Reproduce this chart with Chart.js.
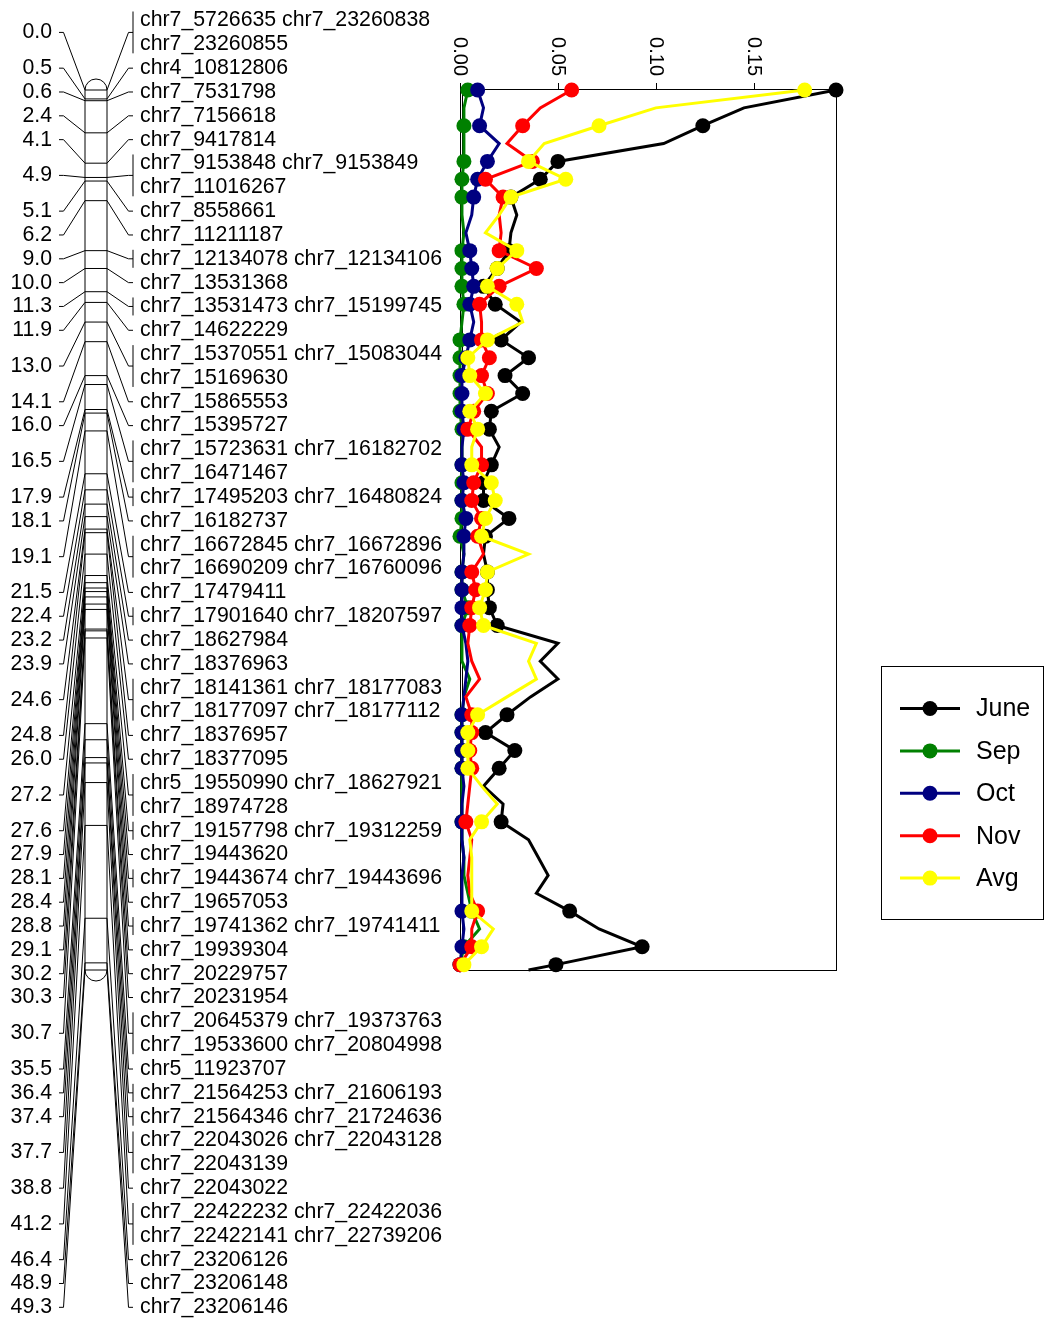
<!DOCTYPE html>
<html>
<head>
<meta charset="utf-8">
<script src="https://cdn.jsdelivr.net/npm/chart.js@4.4.0/dist/chart.umd.min.js"></script>
<style>
html,body{margin:0;padding:0;background:#fff}
canvas{display:block}
</style>
</head>
<body>
<canvas id="map" width="1044" height="1319"></canvas>
<script>
// profile scan positions (cM) and values per month
var profilePos = [0,1,2,3,4,5,6,7,8,9,10,11,12,13,14,15,16,17,18,19,20,21,22,23,24,25,26,27,28,29,30,31,32,33,34,35,36,37,38,39,40,41,42,43,44,45,46,47,48,49,49.3];
var june = [0.192,0.145,0.124,0.104,0.050,0.041,0.026,0.029,0.026,0.025,
  0.019,0.012,0.018,0.031,0.021,0.035,0.023,0.032,0.016,0.015,
  0.020,0.016,0.012,0.012,0.025,0.013,0.012,0.014,0.014,0.015,
  0.019,0.050,0.041,0.050,0.036,0.024,0.013,0.028,0.020,0.012,
  0.022,0.021,0.035,0.040,0.045,0.039,0.056,0.071,0.093,0.049,0.035];
var sep = [0.004,0.002,0.002,0.002,0.002,0.001,0.001,0.001,0.002,0.001,
  0.001,0.001,0.002,0.001,0.000,0.000,0.000,0.000,0.000,0.001,
  0.001,0.001,0.001,0.001,0.001,0.000,0.002,0.001,0.001,0.004,
  0.001,0.001,0.001,0.005,0.002,0.001,0.001,0.001,0.001,0.001,
  0.001,0.001,0.001,0.002,0.002,0.004,0.006,0.010,0.002,0.000,0.000];
var oct = [0.009,0.012,0.010,0.020,0.014,0.009,0.007,0.006,0.003,0.005,
  0.006,0.007,0.005,0.007,0.005,0.003,0.001,0.001,0.001,0.002,
  0.001,0.001,0.002,0.001,0.003,0.002,0.002,0.001,0.001,0.001,
  0.001,0.003,0.004,0.003,0.002,0.001,0.001,0.001,0.001,0.002,
  0.001,0.001,0.001,0.002,0.001,0.001,0.001,0.002,0.001,0.000,0.000];
var nov = [0.057,0.041,0.032,0.024,0.037,0.013,0.022,0.020,0.021,0.020,
  0.039,0.020,0.010,0.011,0.011,0.015,0.011,0.014,0.007,0.004,
  0.011,0.011,0.007,0.006,0.011,0.009,0.012,0.006,0.008,0.006,
  0.005,0.004,0.006,0.010,0.003,0.006,0.006,0.005,0.006,0.005,
  0.004,0.003,0.006,0.005,0.004,0.005,0.009,0.006,0.006,0.000,0.000];
var avg = [0.176,0.100,0.071,0.043,0.035,0.054,0.026,0.020,0.013,0.029,
  0.019,0.014,0.029,0.032,0.014,0.004,0.005,0.013,0.005,0.009,
  0.006,0.006,0.016,0.018,0.013,0.011,0.035,0.014,0.013,0.010,
  0.012,0.039,0.035,0.039,0.024,0.009,0.004,0.004,0.004,0.011,
  0.019,0.011,0.005,0.006,0.006,0.006,0.006,0.017,0.011,0.002,0.001];
// scan points that get a dot
var dotIdx = [0,2,4,5,6,9,10,11,12,14,15,16,17,18,19,21,22,23,24,25,27,28,29,30,35,36,37,38,41,46,48,49];
var xTicks = [0, 0.05, 0.10, 0.15];
var xMax = 0.192;

// linkage map: marker positions and names (one entry per text row)
var mapPos = [0.0,0.5,0.6,2.4,4.1,4.9,5.1,6.2,9.0,10.0,11.3,11.9,13.0,14.1,16.0,16.5,17.9,18.1,19.1,21.5,
  22.4,23.2,23.9,24.6,24.8,26.0,27.2,27.6,27.9,28.1,28.4,28.8,29.1,30.2,30.3,30.7,35.5,36.4,37.4,37.7,
  38.8,41.2,46.4,48.9,49.3];
var mapNames = [
  ["chr7_5726635 chr7_23260838","chr7_23260855"],
  ["chr4_10812806"],
  ["chr7_7531798"],
  ["chr7_7156618"],
  ["chr7_9417814"],
  ["chr7_9153848 chr7_9153849","chr7_11016267"],
  ["chr7_8558661"],
  ["chr7_11211187"],
  ["chr7_12134078 chr7_12134106"],
  ["chr7_13531368"],
  ["chr7_13531473 chr7_15199745"],
  ["chr7_14622229"],
  ["chr7_15370551 chr7_15083044","chr7_15169630"],
  ["chr7_15865553"],
  ["chr7_15395727"],
  ["chr7_15723631 chr7_16182702","chr7_16471467"],
  ["chr7_17495203 chr7_16480824"],
  ["chr7_16182737"],
  ["chr7_16672845 chr7_16672896","chr7_16690209 chr7_16760096"],
  ["chr7_17479411"],
  ["chr7_17901640 chr7_18207597"],
  ["chr7_18627984"],
  ["chr7_18376963"],
  ["chr7_18141361 chr7_18177083","chr7_18177097 chr7_18177112"],
  ["chr7_18376957"],
  ["chr7_18377095"],
  ["chr5_19550990 chr7_18627921","chr7_18974728"],
  ["chr7_19157798 chr7_19312259"],
  ["chr7_19443620"],
  ["chr7_19443674 chr7_19443696"],
  ["chr7_19657053"],
  ["chr7_19741362 chr7_19741411"],
  ["chr7_19939304"],
  ["chr7_20229757"],
  ["chr7_20231954"],
  ["chr7_20645379 chr7_19373763","chr7_19533600 chr7_20804998"],
  ["chr5_11923707"],
  ["chr7_21564253 chr7_21606193"],
  ["chr7_21564346 chr7_21724636"],
  ["chr7_22043026 chr7_22043128","chr7_22043139"],
  ["chr7_22043022"],
  ["chr7_22422232 chr7_22422036","chr7_22422141 chr7_22739206"],
  ["chr7_23206126"],
  ["chr7_23206148"],
  ["chr7_23206146"]
];

var FONT = '"Liberation Sans", Arial, sans-serif';

var series = [
  {label:"June", vals:june, color:"#000000"},
  {label:"Sep",  vals:sep,  color:"#008000"},
  {label:"Oct",  vals:oct,  color:"#000080"},
  {label:"Nov",  vals:nov,  color:"#ff0000"},
  {label:"Avg",  vals:avg,  color:"#ffff00"}
];

var radius = profilePos.map(function(p, i){ return dotIdx.indexOf(i) >= 0 ? 7.5 : 0; });

var datasets = series.map(function(s, i){
  return {
    label: s.label,
    data: s.vals.map(function(v, j){ return {x: v, y: profilePos[j]}; }),
    showLine: true,
    borderColor: s.color,
    backgroundColor: s.color,
    borderWidth: 3,
    pointRadius: radius,
    pointHoverRadius: radius,
    pointBorderWidth: 0,
    tension: 0,
    clip: false,
    order: series.length - i
  };
});

var mapPlugin = {
  id: "linkageMap",
  beforeDatasetsDraw: function(chart){
    var ctx = chart.ctx, a = chart.chartArea, xs = chart.scales.x;
    ctx.save();
    ctx.strokeStyle = "#000";
    ctx.lineWidth = 1;
    ctx.strokeRect(a.left + 0.5, a.top - 0.5, a.right - a.left, a.bottom - a.top + 1);
    ctx.beginPath();
    ctx.moveTo(a.left + 2.5, a.top);
    ctx.lineTo(a.left + 2.5, a.bottom);
    // top axis ticks
    xTicks.forEach(function(t){
      var x = Math.round(xs.getPixelForValue(t)) + 0.5;
      ctx.moveTo(x, a.top);
      ctx.lineTo(x, a.top - 7);
    });
    ctx.stroke();
    ctx.fillStyle = "#000";
    ctx.font = "20px " + FONT;
    ctx.textAlign = "right";
    ctx.textBaseline = "middle";
    xTicks.forEach(function(t){
      ctx.save();
      ctx.translate(xs.getPixelForValue(t), a.top - 14);
      ctx.rotate(Math.PI / 2);
      ctx.fillText(t.toFixed(2), 0, 0);
      ctx.restore();
    });
    ctx.restore();
  },
  afterDraw: function(chart){
    var ctx = chart.ctx, ys = chart.scales.y;
    var cl = 85, cr = 107, rad = (cr - cl) / 2;
    var rowTop = 20.5, rowH = 23.83;
    var top = ys.getPixelForValue(mapPos[0]);
    var bot = ys.getPixelForValue(mapPos[mapPos.length - 1]);
    ctx.save();
    ctx.strokeStyle = "#000";
    ctx.lineWidth = 1;
    // chromosome outline
    ctx.beginPath();
    ctx.moveTo(cl, top);
    ctx.lineTo(cl, bot);
    ctx.moveTo(cr, top);
    ctx.lineTo(cr, bot);
    ctx.stroke();
    ctx.beginPath();
    ctx.arc((cl + cr) / 2, top, rad, Math.PI, 0);
    ctx.stroke();
    ctx.beginPath();
    ctx.arc((cl + cr) / 2, bot, rad, 0, Math.PI);
    ctx.stroke();

    ctx.font = "21.3px " + FONT;
    ctx.fillStyle = "#000";
    ctx.textBaseline = "middle";
    var row = 0;
    mapPos.forEach(function(p, i){
      var y = ys.getPixelForValue(p);
      var rows = mapNames[i];
      var y0 = rowTop + row * rowH;
      var y1 = rowTop + (row + rows.length - 1) * rowH;
      var ly = (y0 + y1) / 2;
      ctx.beginPath();
      ctx.moveTo(cl, y); ctx.lineTo(cr, y);
      ctx.moveTo(59, ly); ctx.lineTo(63.5, ly); ctx.lineTo(cl, y);
      ctx.moveTo(cr, y); ctx.lineTo(128.5, ly); ctx.lineTo(133, ly);
      var n = rows.join(" ").split(" ").length;
      if (n > 1) {
        ctx.moveTo(133, y0 - 9); ctx.lineTo(133, y1 + 9);
      }
      ctx.stroke();
      ctx.textAlign = "right";
      ctx.fillText(p.toFixed(1), 52, ly);
      ctx.textAlign = "left";
      rows.forEach(function(r, k){
        ctx.fillText(r, 140, rowTop + (row + k) * rowH);
      });
      row += rows.length;
    });

    // legend box
    var lx = 881.5, ly0 = 666.5, lw = 162, lh = 253;
    ctx.strokeRect(lx, ly0, lw, lh);
    ctx.font = "25px " + FONT;
    ctx.textAlign = "left";
    chart.data.datasets.forEach(function(ds, i){
      var yy = 708.5 + i * 42.4;
      ctx.strokeStyle = ds.borderColor;
      ctx.lineWidth = 3;
      ctx.beginPath();
      ctx.moveTo(900, yy); ctx.lineTo(960, yy);
      ctx.stroke();
      ctx.fillStyle = ds.backgroundColor;
      ctx.beginPath();
      ctx.arc(930, yy, 7.5, 0, Math.PI * 2);
      ctx.fill();
      ctx.fillStyle = "#000";
      ctx.fillText(ds.label, 976, yy + 1);
    });
    ctx.restore();
  }
};

new Chart(document.getElementById("map"), {
  type: "scatter",
  data: {datasets: datasets},
  options: {
    responsive: false,
    animation: false,
    devicePixelRatio: 1,
    layout: {padding: {left: 460, right: 208, top: 90, bottom: 349}},
    plugins: {legend: {display: false}, tooltip: {enabled: false}},
    events: [],
    scales: {
      x: {type: "linear", min: 0, max: xMax, display: false},
      y: {type: "linear", min: 0, max: 49.3, reverse: true, display: false}
    }
  },
  plugins: [mapPlugin]
});
</script>
</body>
</html>
